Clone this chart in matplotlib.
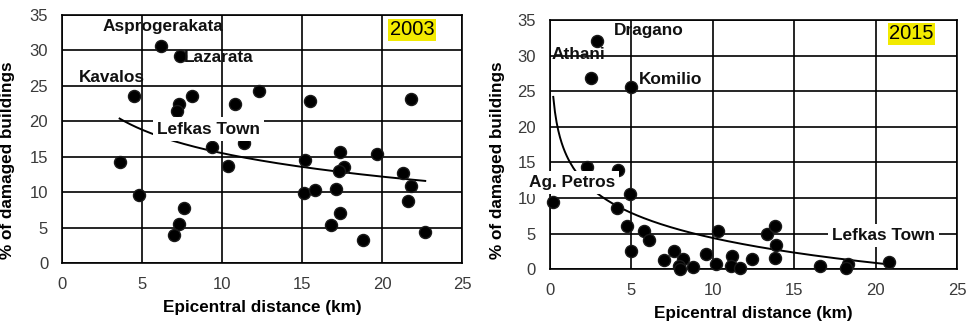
import matplotlib.pyplot as plt
import numpy as np

plt.rcParams['font.family'] = ['Liberation Sans', 'DejaVu Sans']

# 2003 event
dist_2003 = [6.2, 7.4, 4.5, 7.3, 7.2, 8.1, 10.8, 12.3, 15.5, 21.8,
             3.6, 4.8, 7.6, 7.3, 7.0, 9.4, 10.4, 11.4, 15.2, 15.1,
             15.8, 17.4, 17.6, 17.3, 17.1, 17.4, 16.8, 18.8, 19.7, 21.3,
             21.8, 21.6, 22.7]
dmg_2003 = [30.6, 29.2, 23.6, 22.4, 21.5, 23.6, 22.4, 24.3, 22.9, 23.1,
            14.2, 9.6, 7.8, 5.5, 4.0, 16.4, 13.7, 16.9, 14.5, 9.9,
            10.3, 15.6, 13.5, 13.0, 10.5, 7.0, 5.3, 3.2, 15.4, 12.7,
            10.9, 8.7, 4.3]

# 2015 event
dist_2015 = [2.9, 2.5, 5.0, 2.3, 4.2, 4.9, 0.2, 4.1, 4.7, 5.8,
             6.1, 5.0, 7.0, 7.6, 8.2, 7.9, 8.0, 8.8, 9.6, 10.2,
             10.3, 11.2, 11.1, 11.7, 12.4, 13.3, 13.8, 13.9, 13.8, 16.6,
             18.3, 18.2, 20.8]
dmg_2015 = [32.0, 26.9, 25.6, 14.4, 14.0, 10.5, 9.5, 8.6, 6.0, 5.4,
            4.1, 2.6, 1.3, 2.5, 1.4, 0.5, 0.0, 0.3, 2.1, 0.7,
            5.3, 1.8, 0.4, 0.2, 1.4, 4.9, 6.1, 3.4, 1.5, 0.5,
            0.7, 0.2, 1.0]

# logarithmic trend lines (y = a + b ln x)
trend_2003 = (26.5, -4.78, 3.6, 22.7)
trend_2015 = (16.05, -5.07, 0.2, 20.7)

labels_2003 = [("Asprogerakata", 6.3, 33.4), ("Lazarata", 9.8, 29.0),
               ("Kavalos", 3.1, 26.2), ("Lefkas Town", 9.15, 18.9)]
labels_2015 = [("Dragano", 6.05, 33.5), ("Athani", 1.75, 30.2),
               ("Komilio", 7.4, 26.6), ("Ag. Petros", 1.35, 12.15),
               ("Lefkas Town", 20.5, 4.75)]

fig = plt.figure(figsize=(9.69, 3.25), dpi=100)
ax1 = fig.add_axes([0.064, 0.191, 0.4128, 0.763])
ax2 = fig.add_axes([0.5676, 0.172, 0.42, 0.766])


def draw(ax, x, y, trend, labels, year, year_pos, boxed, ylab_pos):
    ax.set_xlim(0, 25)
    ax.set_ylim(0, 35)
    ax.set_xticks(range(0, 26, 5))
    ax.set_yticks(range(0, 36, 5))
    ax.grid(True, color='black', linewidth=1.2)
    ax.set_axisbelow(True)
    ax.tick_params(length=0, labelsize=12, labelcolor='#3a3a3a', pad=10)
    for s in ax.spines.values():
        s.set_linewidth(1.2)
    a, b, x0, x1 = trend
    xs = np.linspace(x0, x1, 200)
    ax.plot(xs, a + b * np.log(xs), color='black', linewidth=1.4, zorder=3)
    ax.scatter(x, y, s=75, color='black', edgecolors='#1a1a1a', zorder=4, clip_on=False)
    for name, lx, ly in labels:
        bb = dict(facecolor='white', edgecolor='none', pad=3) if name in boxed else None
        ax.text(lx, ly, name, ha='center', va='center', fontsize=12.4,
                fontweight='bold', color='#111111', zorder=6, bbox=bb, clip_on=False)
    ax.text(year_pos[0], year_pos[1], year, ha='center', va='center', fontsize=14.5,
            zorder=6, bbox=dict(facecolor='#f2ea00', edgecolor='none', pad=1.2))
    ax.set_xlabel("Epicentral distance (km)", fontsize=12.3, fontweight='bold', labelpad=6)
    ax.set_ylabel("% of damaged buildings", fontsize=12.3, fontweight='bold')
    ax.yaxis.set_label_coords(*ylab_pos)


draw(ax1, dist_2003, dmg_2003, trend_2003, labels_2003, "2003", (21.9, 32.9),
     ["Lefkas Town"], (-0.118, 0.415))
draw(ax2, dist_2015, dmg_2015, trend_2015, labels_2015, "2015", (22.2, 33.1),
     ["Ag. Petros", "Lefkas Town"], (-0.11, 0.438))

plt.savefig("out.png", dpi=100)
